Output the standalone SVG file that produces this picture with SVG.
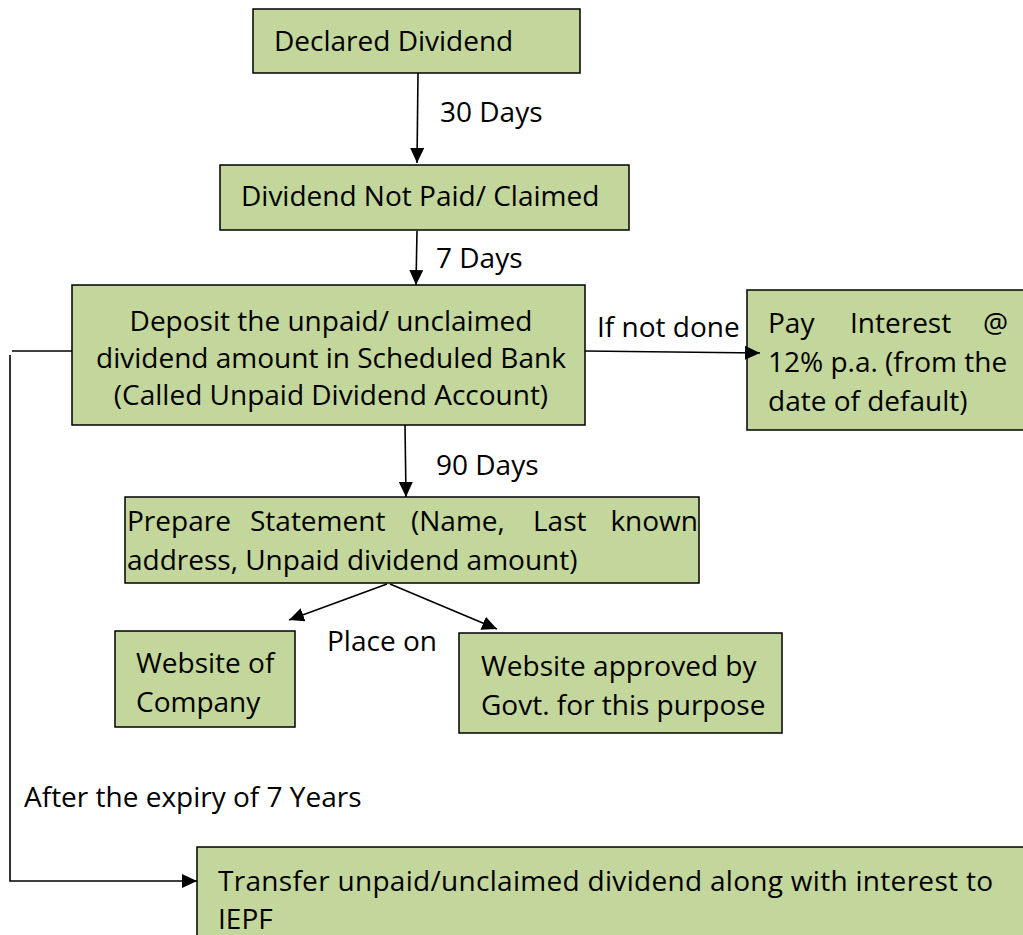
<svg xmlns="http://www.w3.org/2000/svg" width="1023" height="935" viewBox="0 0 1023 935">
<style>
.box{fill:#c3d69b;stroke:#000;stroke-width:1.5}
text{font-family:"Open Sans","Noto Sans","DejaVu Sans",sans-serif;font-size:28px;fill:#000}
.c{text-anchor:middle}
.e{text-anchor:end}
.ln{fill:none;stroke:#000;stroke-width:1.6}
</style>
<defs>
<marker id="ah" viewBox="0 0 10 10" refX="10" refY="5" markerWidth="15" markerHeight="14" orient="auto" markerUnits="userSpaceOnUse" preserveAspectRatio="none">
<path d="M0,0 L10,5 L0,10 z" fill="#000"/>
</marker>
</defs>
<g id="declared">
<rect class="box" x="253" y="9" width="327" height="64"/>
<text x="274" y="51">Declared Dividend</text>
</g>
<g id="notpaid">
<rect class="box" x="220" y="165" width="409" height="65"/>
<text x="241" y="206">Dividend Not Paid/ Claimed</text>
</g>
<g id="deposit">
<rect class="box" x="72" y="285" width="513" height="140"/>
<text class="c" x="331" y="331">Deposit the unpaid/ unclaimed</text>
<text class="c" x="331" y="368">dividend amount in Scheduled Bank</text>
<text class="c" x="331" y="405">(Called Unpaid Dividend Account)</text>
</g>
<g id="interest">
<rect class="box" x="747" y="290" width="280" height="140"/>
<text x="768" y="333">Pay</text>
<text x="850" y="333">Interest</text>
<text class="e" x="1008" y="333">@</text>
<text x="768" y="372">12% p.a. (from the</text>
<text x="768" y="411">date of default)</text>
</g>
<g id="statement">
<rect class="box" x="125" y="497" width="574" height="86"/>
<text x="127" y="531">Prepare</text>
<text x="250" y="531">Statement</text>
<text x="411" y="531">(Name,</text>
<text x="533" y="531">Last</text>
<text class="e" x="698" y="531">known</text>
<text x="127" y="570">address, Unpaid dividend amount)</text>
</g>
<g id="company">
<rect class="box" x="115" y="631" width="180" height="96"/>
<text x="136" y="673">Website of</text>
<text x="136" y="712">Company</text>
</g>
<g id="govt">
<rect class="box" x="459" y="633" width="323" height="100"/>
<text x="481" y="676">Website approved by</text>
<text x="481" y="715">Govt. for this purpose</text>
</g>
<g id="iepf">
<rect class="box" x="197" y="847" width="830" height="92"/>
<text x="218" y="891" textLength="775" lengthAdjust="spacing">Transfer unpaid/unclaimed dividend along with interest to</text>
<text x="218" y="929">IEPF</text>
</g>
<g id="connectors">
<line class="ln" x1="418" y1="73" x2="417" y2="163" marker-end="url(#ah)"/>
<line class="ln" x1="417" y1="231" x2="416" y2="285" marker-end="url(#ah)"/>
<line class="ln" x1="585" y1="351" x2="760" y2="353" marker-end="url(#ah)"/>
<line class="ln" x1="405" y1="425" x2="406" y2="497" marker-end="url(#ah)"/>
<line class="ln" x1="387" y1="584" x2="289" y2="620" marker-end="url(#ah)"/>
<line class="ln" x1="390" y1="584" x2="497" y2="629" marker-end="url(#ah)"/>
<polyline class="ln" points="72,351 12,351"/>
<polyline class="ln" points="10,355 10,881 197,881" marker-end="url(#ah)"/>
<text x="440" y="122">30 Days</text>
<text x="436" y="268">7 Days</text>
<text x="597" y="337">If not done</text>
<text x="436" y="475">90 Days</text>
<text x="327" y="651">Place on</text>
<text x="24" y="807">After the expiry of 7 Years</text>
</g>
</svg>
